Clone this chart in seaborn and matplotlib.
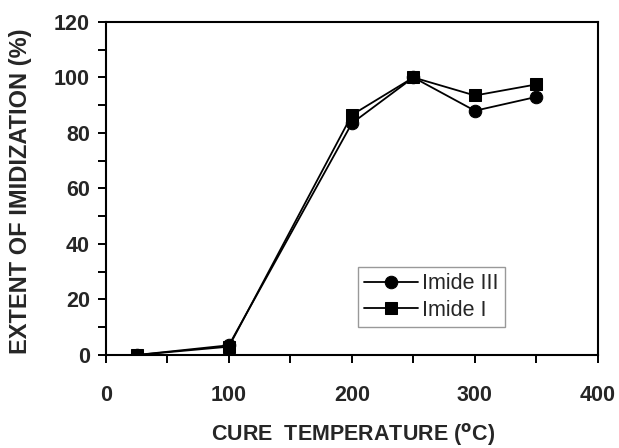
import matplotlib
matplotlib.use("Agg")
import matplotlib.pyplot as plt
import seaborn as sns
import pandas as pd
from matplotlib.ticker import MultipleLocator

temps = [25, 100, 200, 250, 300, 350]
imide_iii = [0, 3.5, 83.5, 100, 88, 93]
imide_i = [0, 3.0, 86.5, 100, 93.5, 97.5]
series_names = ["Imide III", "Imide I"]

df = pd.DataFrame({
    "temp": temps * 2,
    "value": imide_iii + imide_i,
    "series": [series_names[0]] * len(temps) + [series_names[1]] * len(temps),
})

sns.set_style("white")
plt.rcParams['font.family'] = ['Liberation Sans', 'DejaVu Sans']

fig = plt.figure(figsize=(6.19, 4.48), dpi=100)
ax = fig.add_axes([0.171, 0.2076, 0.795, 0.7434])

sns.lineplot(data=df, x="temp", y="value", hue="series", style="series",
             markers={"Imide III": "o", "Imide I": "s"}, dashes=False,
             palette={"Imide III": "black", "Imide I": "black"},
             markersize=9, linewidth=1.3, markeredgecolor="black", ax=ax)

ax.set_xlim(0, 400)
ax.set_ylim(0, 120)
ax.xaxis.set_major_locator(MultipleLocator(100))
ax.xaxis.set_minor_locator(MultipleLocator(50))
ax.yaxis.set_major_locator(MultipleLocator(20))
ax.yaxis.set_minor_locator(MultipleLocator(10))
ax.tick_params(which="both", direction="out", color="black", width=1.4,
               bottom=True, left=True, length=5.5)
ax.tick_params(axis="x", which="major", labelsize=15.5, pad=16)
ax.tick_params(axis="y", which="major", labelsize=15.5, pad=6)
for lab in ax.get_xticklabels() + ax.get_yticklabels():
    lab.set_fontweight("bold")
for s in ax.spines.values():
    s.set_color("black")
    s.set_linewidth(1.5)

ax.set_xlabel("CURE  TEMPERATURE ($\\mathbf{^{o}}$C)", fontsize=15.5, fontweight="bold")
ax.xaxis.set_label_coords(0.503, -0.198)
ax.set_ylabel("EXTENT OF IMIDIZATION (%)", fontsize=17, fontweight="bold")
ax.yaxis.set_label_coords(-0.150, 0.491)

leg = ax.legend(loc="lower left", bbox_to_anchor=(0.512, 0.084), fontsize=15.5,
                frameon=True, fancybox=False, edgecolor="gray", handlelength=2.5,
                borderpad=0.3, labelspacing=0.25, handletextpad=0.2, borderaxespad=0)
leg.get_frame().set_linewidth(1.0)

fig.savefig("out.png", dpi=100)
